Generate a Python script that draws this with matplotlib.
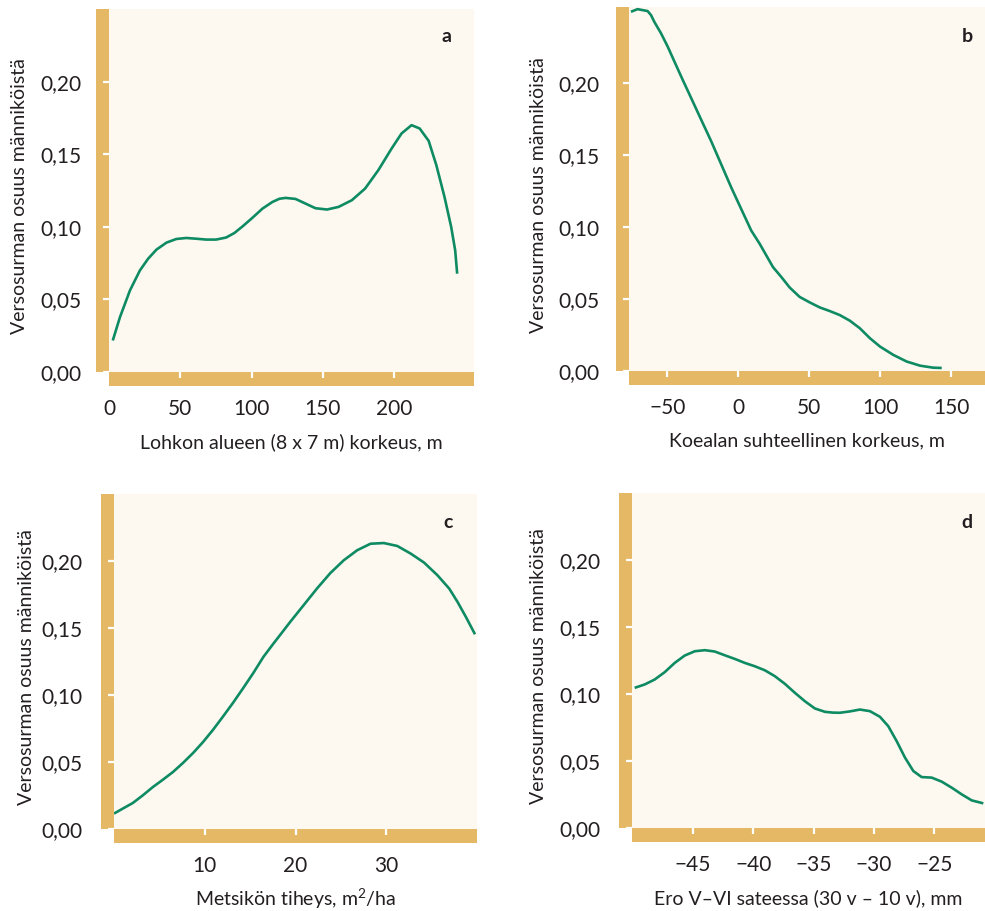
import matplotlib
matplotlib.use("Agg")
import matplotlib.pyplot as plt
from matplotlib.patches import Rectangle

plt.rcParams['font.family'] = ['Lato', 'DejaVu Sans']
plt.rcParams['mathtext.fontset'] = 'custom'
plt.rcParams['mathtext.rm'] = 'Lato'
plt.rcParams['mathtext.default'] = 'regular'

W, H = 985, 911
GOLD = '#E5B866'
CREAM = '#FDF9F1'
GREEN = '#0E8B63'
TEXT = '#231F20'

y_label = "Versosurman osuus männiköistä"
y_ticks = [0.00, 0.05, 0.10, 0.15, 0.20]
y_ticklabels = ["0,00", "0,05", "0,10", "0,15", "0,20"]

# Panel a
a_x = [2.65, 7.7, 14.7, 21.7, 27.5, 33.3, 40.3, 47.2, 54.2, 61.2, 68.1, 75.1, 82.1,
       87.9, 93.7, 100.7, 107.6, 114.6, 119.5, 123.9, 130.8, 137.8, 144.8, 152.9, 161,
       170.3, 179.6, 188.9, 198.2, 205.2, 212.2, 217.9, 224.2, 229.6, 235.3, 240,
       242.8, 244.2]
a_y = [0.0217, 0.0378, 0.0562, 0.070, 0.0781, 0.0843, 0.0891, 0.0916, 0.0923, 0.0918,
       0.0912, 0.0912, 0.0926, 0.0957, 0.1003, 0.1063, 0.1125, 0.1171, 0.1193, 0.1199,
       0.1192, 0.1160, 0.1128, 0.1119, 0.1137, 0.1183, 0.1263, 0.1390, 0.1539, 0.1643,
       0.1700, 0.1677, 0.1592, 0.1424, 0.1206, 0.0999, 0.0838, 0.0677]
a_ticks = [0, 50, 100, 150, 200]
a_ticklabels = ["0", "50", "100", "150", "200"]
a_xlabel = "Lohkon alueen (8 x 7 m) korkeus, m"

# Panel b
b_x = [-75.6, -71, -63.9, -61.5, -59.2, -54.4, -49.7, -45, -39.2, -33.2, -26.2, -19.1,
       -12, -4.9, 2.1, 9.2, 15.1, 19.8, 24.5, 30.4, 36.3, 43.3, 50.4, 57.5, 64.5, 71.6,
       78.7, 85.7, 92.8, 99.9, 109.3, 118.7, 128.2, 137.5, 143.5]
b_y = [0.2492, 0.2510, 0.2497, 0.2469, 0.2423, 0.2342, 0.2250, 0.2147, 0.2021, 0.1894,
       0.1745, 0.1595, 0.1434, 0.1273, 0.1124, 0.0974, 0.0883, 0.0802, 0.0721, 0.0652,
       0.0579, 0.0514, 0.0476, 0.0441, 0.0416, 0.0388, 0.0349, 0.0297, 0.0228, 0.0170,
       0.0112, 0.0066, 0.0037, 0.0023, 0.0021]
b_ticks = [-50, 0, 50, 100, 150]
b_ticklabels = ["\u221250", "0", "50", "100", "150"]
b_xlabel = "Koealan suhteellinen korkeus, m"

# Panel c
c_x = [0, 0.96, 2.07, 3.17, 4.28, 5.39, 6.49, 7.6, 8.71, 9.81, 10.92, 12.03, 13.13,
       14.24, 15.35, 16.46, 17.56, 18.5, 19.41, 20.88, 22.36, 23.84, 25.31, 26.79,
       28.27, 29.74, 31.22, 32.7, 34.17, 35.65, 36.94, 37.86, 38.78, 39.78]
c_y = [0.0115, 0.0152, 0.0194, 0.0251, 0.0313, 0.0368, 0.0425, 0.0493, 0.0567, 0.0649,
       0.0741, 0.0841, 0.0943, 0.1052, 0.1164, 0.1284, 0.1383, 0.1465, 0.1545, 0.1669,
       0.1794, 0.1910, 0.2005, 0.2080, 0.2129, 0.2134, 0.2112, 0.2055, 0.1988, 0.1893,
       0.1794, 0.1694, 0.1582, 0.1453]
c_ticks = [10, 20, 30]
c_ticklabels = ["10", "20", "30"]
c_xlabel = "Metsikön tiheys, m$^{2}$/ha"

# Panel d
d_x = [-49.84, -49.01, -48.18, -47.35, -46.52, -45.69, -44.86, -44.03, -43.2, -42.37,
       -41.54, -40.71, -39.88, -39.05, -38.22, -37.39, -36.56, -35.73, -34.9, -34.07,
       -33.4, -32.83, -32, -31.17, -30.34, -29.51, -28.82, -28.12, -27.43, -26.74,
       -26.05, -25.22, -24.39, -23.56, -22.73, -21.9, -20.94]
d_y = [0.1046, 0.1071, 0.1108, 0.1163, 0.1232, 0.1287, 0.1319, 0.1327, 0.1317, 0.1289,
       0.1262, 0.1232, 0.1207, 0.1177, 0.1133, 0.1076, 0.1009, 0.0946, 0.0892, 0.0867,
       0.0861, 0.0860, 0.0870, 0.0884, 0.0872, 0.0830, 0.0760, 0.0648, 0.0525, 0.0425,
       0.0380, 0.0376, 0.0346, 0.0301, 0.0251, 0.0206, 0.0184]
d_ticks = [-45, -40, -35, -30, -25]
d_ticklabels = ["\u221245", "\u221240", "\u221235", "\u221230", "\u221225"]
d_xlabel = "Ero V\u2013VI sateessa (30 v \u2013 10 v), mm"

fig = plt.figure(figsize=(W / 100, H / 100), dpi=100)
fig.patch.set_facecolor('white')

panels = [
    dict(box=(109, 9, 474, 372), xlim=(0, 256), ylim=(0, 0.25), x=a_x, y=a_y,
         ticks=a_ticks, tl=a_ticklabels, xl=a_xlabel, letter='a', lpos=(447, 37),
         ypad=15, ylx=89, hide_first=True),
    dict(box=(629, 7, 985, 371), xlim=(-77, 174), ylim=(0, 0.2525), x=b_x, y=b_y,
         ticks=b_ticks, tl=b_ticklabels, xl=b_xlabel, letter='b', lpos=(967, 36),
         ypad=16.5, ylx=91, hide_first=False),
    dict(box=(114, 494, 477, 829), xlim=(0, 40), ylim=(0, 0.25), x=c_x, y=c_y,
         ticks=c_ticks, tl=c_ticklabels, xl=c_xlabel, letter='c', lpos=(448, 522),
         ypad=18.5, ylx=87, hide_first=False),
    dict(box=(632, 493, 985, 828), xlim=(-50.06, -20.8), ylim=(0, 0.25), x=d_x, y=d_y,
         ticks=d_ticks, tl=d_ticklabels, xl=d_xlabel, letter='d', lpos=(967, 522),
         ypad=18.5, ylx=94, hide_first=False),
]

BAR = 13.5  # px

for p in panels:
    l, t, r, b = p['box']
    wpx, hpx = r - l, b - t
    ax = fig.add_axes([l / W, 1 - b / H, wpx / W, hpx / H])
    ax.set_facecolor(CREAM)
    for s in ax.spines.values():
        s.set_visible(False)
    ax.add_patch(Rectangle((-BAR / wpx, 0), BAR / wpx, 1, transform=ax.transAxes,
                           facecolor=GOLD, edgecolor='none', clip_on=False, zorder=1))
    ax.add_patch(Rectangle((0, -BAR / hpx), 1, BAR / hpx, transform=ax.transAxes,
                           facecolor=GOLD, edgecolor='none', clip_on=False, zorder=1))
    ax.plot(p['x'], p['y'], color=GREEN, lw=1.9, solid_joinstyle='round',
            solid_capstyle='butt', zorder=3)
    ax.set_xlim(*p['xlim'])
    ax.set_ylim(*p['ylim'])
    ax.set_yticks(y_ticks)
    ax.set_yticklabels(y_ticklabels)
    ax.set_xticks(p['ticks'])
    ax.set_xticklabels(p['tl'])
    ax.tick_params(axis='both', direction='out', length=4.5, width=1.6, color='white',
                   labelsize=15, labelcolor=TEXT)
    ax.tick_params(axis='y', pad=p['ypad'])
    ax.tick_params(axis='x', pad=15)
    if p['hide_first']:
        ax.xaxis.get_major_ticks()[0].tick1line.set_visible(False)
    ax.set_ylabel(y_label, fontsize=14, color=TEXT)
    ax.yaxis.set_label_coords(-p['ylx'] / wpx, 0.5 - 6 / hpx)
    ax.yaxis.label.set_va('center')
    ax.set_xlabel(p['xl'], fontsize=14, color=TEXT)
    ax.xaxis.set_label_coords(0.5, -70 / hpx)
    ax.xaxis.label.set_va('center')
    lx, ly = p['lpos']
    fig.text(lx / W, 1 - ly / H, p['letter'], fontsize=14, fontweight='bold',
             color=TEXT, ha='center', va='center')

fig.savefig('out.png', dpi=100, facecolor='white')
